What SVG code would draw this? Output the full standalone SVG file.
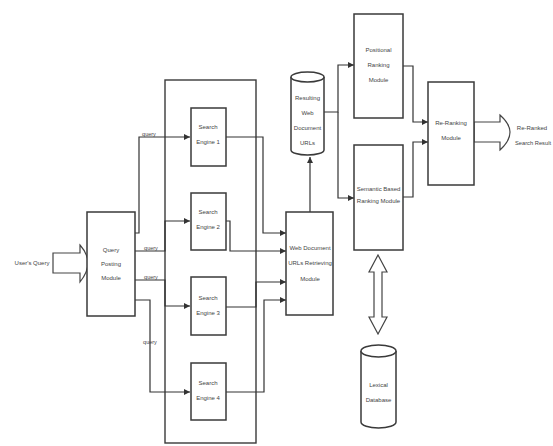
<svg xmlns="http://www.w3.org/2000/svg" width="553" height="446" viewBox="0 0 553 446">
<style>
.box{fill:#fff;stroke:#3a3a3a;stroke-width:1.5}
.frame{fill:none;stroke:#3a3a3a;stroke-width:1.4}
.ln{fill:none;stroke:#333;stroke-width:1.2}
.hol{fill:#fff;stroke:#444;stroke-width:1.2}
text{font-family:"Liberation Sans","DejaVu Sans",sans-serif;font-size:6px;fill:#444;text-anchor:middle}
.lbl{font-size:5.5px}
</style>
<defs>
<marker id="ah" markerWidth="6" markerHeight="6" refX="6" refY="3" orient="auto" markerUnits="userSpaceOnUse">
<path d="M0,0 L6,3 L0,6 z" fill="#333"/>
</marker>
</defs>
<rect x="0" y="0" width="553" height="446" fill="#fff"/>

<g id="frame"><rect class="frame" x="165" y="80" width="91" height="363"/></g>

<g id="connectors">
<path class="ln" d="M135,233 H139 V137 H190" marker-end="url(#ah)"/>
<path class="ln" d="M135,251 H165 V221 H190" marker-end="url(#ah)"/>
<path class="ln" d="M135,280 H165 V306 H190" marker-end="url(#ah)"/>
<path class="ln" d="M135,300 H150 V392 H190" marker-end="url(#ah)"/>
<path class="ln" d="M226,137 H263 V233 H286" marker-end="url(#ah)"/>
<path class="ln" d="M226,221 H230 V251 H286" marker-end="url(#ah)"/>
<path class="ln" d="M226,307 H256 V282 H286" marker-end="url(#ah)"/>
<path class="ln" d="M226,392 H264 V300 H286" marker-end="url(#ah)"/>
<path class="ln" d="M310,212 V157" marker-end="url(#ah)"/>
<path class="ln" d="M324,112 H338 V65 H354" marker-end="url(#ah)"/>
<path class="ln" d="M338,112 V198 H354" marker-end="url(#ah)"/>
<path class="ln" d="M403,66 H413 V122 H428" marker-end="url(#ah)"/>
<path class="ln" d="M403,197 H413 V142 H428" marker-end="url(#ah)"/>
<text class="lbl" x="149" y="136">query</text>
<text class="lbl" x="151" y="250">query</text>
<text class="lbl" x="151" y="279">query</text>
<text class="lbl" x="150" y="344">query</text>
<path class="hol" d="M53,253 H80 V245 Q88,254 88,263 Q88,272 80,282 V273 H53 Z"/>
<path class="hol" d="M474,122 H500 V115 Q510,124 510,132 Q510,141 500,150 V142 H474 Z"/>
<path class="hol" d="M378,255 L387,272 H382 V317 H387 L378,334 L369,317 H374 V272 H369 Z"/>
</g>

<g id="users-query"><text x="32" y="265">User's Query</text></g>

<g id="query-posting">
<rect class="box" x="87" y="212" width="48" height="104"/>
<text x="111" y="252">Query</text>
<text x="111" y="266">Posting</text>
<text x="111" y="280">Module</text>
</g>

<g id="se1">
<rect class="box" x="191" y="108" width="35" height="58"/>
<text x="208" y="129">Search</text>
<text x="208" y="144">Engine 1</text>
</g>
<g id="se2">
<rect class="box" x="191" y="193" width="35" height="57"/>
<text x="208" y="214">Search</text>
<text x="208" y="229">Engine 2</text>
</g>
<g id="se3">
<rect class="box" x="191" y="277" width="35" height="58"/>
<text x="208" y="300">Search</text>
<text x="208" y="315">Engine 3</text>
</g>
<g id="se4">
<rect class="box" x="191" y="363" width="35" height="57"/>
<text x="208" y="385">Search</text>
<text x="208" y="400">Engine 4</text>
</g>

<g id="webdoc">
<rect class="box" x="286" y="212" width="47" height="103"/>
<text x="310" y="250">Web Document</text>
<text x="310" y="265">URLs Retrieving</text>
<text x="310" y="281">Module</text>
</g>

<g id="resulting-db">
<path class="box" d="M291,77 V150 A16.5,5 0 0 0 324,150 V77"/>
<ellipse class="box" cx="307.5" cy="77" rx="16.5" ry="5"/>
<text x="307.5" y="100">Resulting</text>
<text x="307.5" y="115">Web</text>
<text x="307.5" y="130">Document</text>
<text x="307.5" y="145">URLs</text>
</g>

<g id="positional">
<rect class="box" x="354" y="14" width="49" height="104"/>
<text x="378.5" y="52">Positional</text>
<text x="378.5" y="67">Ranking</text>
<text x="378.5" y="82">Module</text>
</g>

<g id="semantic">
<rect class="box" x="354" y="145" width="49" height="105"/>
<text x="378.5" y="191">Semantic Based</text>
<text x="378.5" y="203">Ranking Module</text>
</g>

<g id="reranking">
<rect class="box" x="428" y="82" width="46" height="103"/>
<text x="451" y="125">Re-Ranking</text>
<text x="451" y="140">Module</text>
</g>

<g id="reranked"><text x="532" y="130">Re-Ranked</text><text x="533" y="145" textLength="36" lengthAdjust="spacingAndGlyphs">Search Result</text></g>

<g id="lexical-db">
<path class="box" d="M361,351 V422 A17.5,6 0 0 0 396,422 V351"/>
<ellipse class="box" cx="378.5" cy="351" rx="17.5" ry="6"/>
<text x="378.5" y="387">Lexical</text>
<text x="378.5" y="402">Database</text>
</g>
</svg>
